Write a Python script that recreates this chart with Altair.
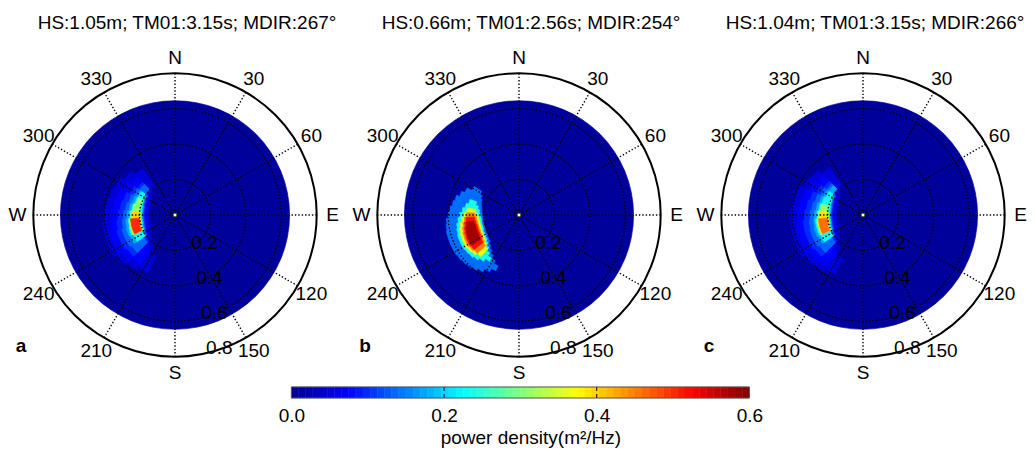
import math
import altair as alt
import pandas as pd

# ---------------- data ----------------
TITLES = ["HS:1.05m; TM01:3.15s; MDIR:267°",
          "HS:0.66m; TM01:2.56s; MDIR:254°",
          "HS:1.04m; TM01:3.15s; MDIR:266°"]
LETTERS = ["a", "b", "c"]
ANGLE_DIRS = [0, 30, 60, 90, 120, 150, 180, 210, 240, 270, 300, 330]
ANGLE_TEXT = ["N", "30", "60", "E", "120", "150", "S", "210", "240", "W", "300", "330"]
SPOKE_DIRS = [0, 30, 60, 90, 120, 150]
RING_R = [0.2, 0.4, 0.6]
OUTER_R = [0.8]
RADIAL_LABELS = [0.2, 0.4, 0.6, 0.8]
DISK_R = 0.645
DISK_LEVEL = 0.008

# contour bands: (level, direction deg, r_inner, r_outer); wedge widths per panel
SPEC_A = [
    (0.05, 210, 0.26, 0.36), (0.05, 220, 0.21, 0.38), (0.05, 230, 0.18, 0.40), (0.05, 240, 0.16, 0.41),
    (0.05, 250, 0.15, 0.41), (0.05, 260, 0.15, 0.41), (0.05, 270, 0.15, 0.40), (0.05, 280, 0.15, 0.39),
    (0.05, 290, 0.15, 0.38), (0.05, 300, 0.16, 0.37), (0.05, 310, 0.17, 0.35), (0.05, 320, 0.19, 0.32),
    (0.075, 220, 0.24, 0.34), (0.075, 230, 0.20, 0.37), (0.075, 240, 0.18, 0.38), (0.075, 250, 0.17, 0.38),
    (0.075, 260, 0.165, 0.37), (0.075, 270, 0.165, 0.36), (0.075, 280, 0.165, 0.35), (0.075, 290, 0.17, 0.34),
    (0.075, 300, 0.17, 0.32), (0.075, 310, 0.19, 0.30),
    (0.10, 230, 0.21, 0.33), (0.10, 240, 0.19, 0.34), (0.10, 250, 0.18, 0.34), (0.10, 260, 0.175, 0.33),
    (0.10, 270, 0.175, 0.32), (0.10, 280, 0.175, 0.31), (0.10, 290, 0.18, 0.30), (0.10, 300, 0.185, 0.28),
    (0.10, 310, 0.20, 0.26),
    (0.135, 230, 0.22, 0.30), (0.135, 240, 0.195, 0.31), (0.135, 250, 0.185, 0.31), (0.135, 260, 0.18, 0.30),
    (0.135, 270, 0.18, 0.29), (0.135, 280, 0.18, 0.28), (0.135, 290, 0.185, 0.27), (0.135, 300, 0.19, 0.26),
    (0.135, 310, 0.205, 0.245),
    (0.175, 240, 0.20, 0.28), (0.175, 250, 0.19, 0.285), (0.175, 260, 0.185, 0.28), (0.175, 270, 0.185, 0.27),
    (0.175, 280, 0.185, 0.26), (0.175, 290, 0.19, 0.25), (0.175, 300, 0.195, 0.24),
    (0.23, 240, 0.205, 0.26), (0.23, 250, 0.195, 0.27), (0.23, 260, 0.19, 0.265), (0.23, 270, 0.19, 0.255),
    (0.23, 280, 0.19, 0.245), (0.23, 290, 0.195, 0.235), (0.23, 300, 0.20, 0.23),
    (0.31, 250, 0.20, 0.262), (0.31, 260, 0.195, 0.26), (0.31, 270, 0.195, 0.25), (0.31, 280, 0.20, 0.24),
    (0.31, 290, 0.20, 0.228),
    (0.40, 250, 0.203, 0.258), (0.40, 260, 0.198, 0.257), (0.40, 270, 0.20, 0.245),
    (0.50, 250, 0.208, 0.252), (0.50, 260, 0.203, 0.252),
]
SPEC_B = [
    (0.14, 205, 0.31, 0.34), (0.14, 210, 0.29, 0.36), (0.14, 215, 0.27, 0.38), (0.14, 220, 0.25, 0.395),
    (0.14, 225, 0.235, 0.405), (0.14, 230, 0.22, 0.41), (0.14, 235, 0.215, 0.415), (0.14, 240, 0.21, 0.42),
    (0.14, 245, 0.21, 0.42), (0.14, 250, 0.205, 0.42), (0.14, 255, 0.205, 0.42), (0.14, 260, 0.205, 0.415),
    (0.14, 265, 0.205, 0.41), (0.14, 270, 0.207, 0.40), (0.14, 275, 0.21, 0.39), (0.14, 280, 0.215, 0.38),
    (0.14, 285, 0.22, 0.37), (0.14, 290, 0.225, 0.35), (0.14, 295, 0.235, 0.33), (0.14, 300, 0.25, 0.30),
    (0.24, 215, 0.29, 0.31), (0.24, 220, 0.27, 0.33), (0.24, 225, 0.25, 0.345), (0.24, 230, 0.235, 0.355),
    (0.24, 235, 0.225, 0.36), (0.24, 240, 0.22, 0.365), (0.24, 245, 0.22, 0.365), (0.24, 250, 0.215, 0.365),
    (0.24, 255, 0.215, 0.36), (0.24, 260, 0.215, 0.355), (0.24, 265, 0.215, 0.345), (0.24, 270, 0.22, 0.335),
    (0.24, 275, 0.225, 0.32), (0.24, 280, 0.235, 0.305), (0.24, 285, 0.25, 0.29),
    (0.36, 225, 0.26, 0.32), (0.36, 230, 0.245, 0.335), (0.36, 235, 0.235, 0.345), (0.36, 240, 0.23, 0.35),
    (0.36, 245, 0.228, 0.35), (0.36, 250, 0.225, 0.348), (0.36, 255, 0.225, 0.343), (0.36, 260, 0.225, 0.335),
    (0.36, 265, 0.228, 0.325), (0.36, 270, 0.235, 0.31), (0.36, 275, 0.245, 0.295),
    (0.45, 230, 0.255, 0.32), (0.45, 235, 0.245, 0.33), (0.45, 240, 0.24, 0.335), (0.45, 245, 0.237, 0.335),
    (0.45, 250, 0.235, 0.333), (0.45, 255, 0.235, 0.328), (0.45, 260, 0.237, 0.32), (0.45, 265, 0.24, 0.31),
    (0.45, 270, 0.25, 0.295),
    (0.52, 235, 0.255, 0.32), (0.52, 240, 0.248, 0.325), (0.52, 245, 0.245, 0.325), (0.52, 250, 0.244, 0.322),
    (0.52, 255, 0.244, 0.317), (0.52, 260, 0.247, 0.31), (0.52, 265, 0.252, 0.30),
    (0.58, 240, 0.258, 0.315), (0.58, 245, 0.255, 0.315), (0.58, 250, 0.254, 0.312), (0.58, 255, 0.254, 0.307),
    (0.58, 260, 0.258, 0.30),
]
SPEC_C = [
    (0.05, 210, 0.27, 0.37), (0.05, 220, 0.22, 0.39), (0.05, 230, 0.18, 0.40), (0.05, 240, 0.16, 0.41),
    (0.05, 250, 0.15, 0.41), (0.05, 260, 0.15, 0.41), (0.05, 270, 0.15, 0.41), (0.05, 280, 0.15, 0.40),
    (0.05, 290, 0.15, 0.39), (0.05, 300, 0.16, 0.37), (0.05, 310, 0.17, 0.36), (0.05, 320, 0.19, 0.33),
    (0.075, 220, 0.25, 0.35), (0.075, 230, 0.20, 0.37), (0.075, 240, 0.18, 0.38), (0.075, 250, 0.17, 0.38),
    (0.075, 260, 0.165, 0.38), (0.075, 270, 0.165, 0.37), (0.075, 280, 0.165, 0.36), (0.075, 290, 0.17, 0.35),
    (0.075, 300, 0.175, 0.33), (0.075, 310, 0.19, 0.31),
    (0.10, 230, 0.21, 0.33), (0.10, 240, 0.19, 0.34), (0.10, 250, 0.18, 0.34), (0.10, 260, 0.175, 0.34),
    (0.10, 270, 0.175, 0.33), (0.10, 280, 0.175, 0.32), (0.10, 290, 0.18, 0.31), (0.10, 300, 0.185, 0.29),
    (0.10, 310, 0.20, 0.27),
    (0.135, 230, 0.22, 0.30), (0.135, 240, 0.195, 0.31), (0.135, 250, 0.185, 0.31), (0.135, 260, 0.18, 0.305),
    (0.135, 270, 0.18, 0.30), (0.135, 280, 0.18, 0.29), (0.135, 290, 0.185, 0.28), (0.135, 300, 0.19, 0.265),
    (0.135, 310, 0.205, 0.25),
    (0.175, 240, 0.20, 0.28), (0.175, 250, 0.19, 0.285), (0.175, 260, 0.185, 0.28), (0.175, 270, 0.185, 0.275),
    (0.175, 280, 0.185, 0.265), (0.175, 290, 0.19, 0.255), (0.175, 300, 0.195, 0.245), (0.175, 310, 0.21, 0.235),
    (0.23, 240, 0.205, 0.265), (0.23, 250, 0.195, 0.27), (0.23, 260, 0.19, 0.27), (0.23, 270, 0.19, 0.26),
    (0.23, 280, 0.19, 0.25), (0.23, 290, 0.195, 0.24), (0.23, 300, 0.20, 0.232),
    (0.31, 250, 0.20, 0.262), (0.31, 260, 0.195, 0.262), (0.31, 270, 0.195, 0.252), (0.31, 280, 0.20, 0.242),
    (0.39, 250, 0.203, 0.258), (0.39, 260, 0.198, 0.258), (0.39, 270, 0.20, 0.248),
    (0.46, 250, 0.208, 0.252), (0.46, 260, 0.203, 0.252),
]
SPECS = [SPEC_A, SPEC_B, SPEC_C]
WEDGES = [10, 5, 10]

CB_TICKS = [0.0, 0.2, 0.4, 0.6]
CB_DASH = [0.2, 0.4]
CB_STEPS = 64
JET_STOPS = [0.0, 0.075, 0.225, 0.375, 0.525, 0.6]
JET_COLORS = ["#00008f", "#0000ff", "#00ffff", "#ffff00", "#ff0000", "#800000"]

# ---------------- layout ----------------
FONT = "Liberation Sans"
FS = 19
PX = 177.1          # pixels per radial unit
HALF = 165          # half panel size in px
D = HALF / PX
LAB_R = 157.5 / PX
RLAB_DIR = 172

jet = alt.Scale(domain=JET_STOPS, range=JET_COLORS, interpolate="rgb")
theta_sc = alt.Scale(domain=[0, 360], range=[0, 2 * math.pi])
rad_sc = alt.Scale(type="linear", domain=[0, D], range=[0, HALF], zero=True, nice=False)
xs = alt.Scale(domain=[-D, D], nice=False, zero=False)
ys = alt.Scale(domain=[-D, D], nice=False, zero=False)


def panel(spec, wedge, title, letter):
    rows = [{"lev": DISK_LEVEL, "t0": 0, "t1": 360, "r0": 0.0, "r1": DISK_R}]
    for lev, d, ri, ro in spec:
        rows.append({"lev": lev, "t0": d - wedge / 2, "t1": d + wedge / 2, "r0": ri, "r1": ro})
    df = pd.DataFrame(rows)
    df["idx"] = range(len(df))

    spectrum = alt.Chart(df).mark_arc(strokeWidth=0.7).encode(
        theta=alt.Theta("t0:Q", scale=theta_sc, stack=False),
        theta2="t1:Q",
        radius=alt.Radius("r1:Q", scale=rad_sc),
        radius2="r0:Q",
        color=alt.Color("lev:Q", scale=jet, legend=None),
        stroke=alt.Stroke("lev:Q", scale=jet, legend=None),
        order=alt.Order("idx:Q"),
    )
    rings = alt.Chart(pd.DataFrame({"r": RING_R, "t0": 0, "t1": 360})).mark_arc(
        filled=False, stroke="black", strokeWidth=1.4, strokeDash=[1.4, 2.0]
    ).encode(
        theta=alt.Theta("t0:Q", scale=theta_sc, stack=False),
        theta2="t1:Q",
        radius=alt.Radius("r:Q", scale=rad_sc),
    )
    outer = alt.Chart(pd.DataFrame({"r": OUTER_R, "t0": 0, "t1": 360})).mark_arc(
        filled=False, stroke="black", strokeWidth=2
    ).encode(
        theta=alt.Theta("t0:Q", scale=theta_sc, stack=False),
        theta2="t1:Q",
        radius=alt.Radius("r:Q", scale=rad_sc),
    )
    spokes = alt.Chart(pd.DataFrame({"b": SPOKE_DIRS, "r": OUTER_R[0]})).transform_calculate(
        x="datum.r*sin(datum.b*PI/180)",
        y="datum.r*cos(datum.b*PI/180)",
        xe="-datum.r*sin(datum.b*PI/180)",
        ye="-datum.r*cos(datum.b*PI/180)",
    ).mark_rule(color="black", strokeWidth=1.4, strokeDash=[1.4, 2.0]).encode(
        x=alt.X("x:Q", scale=xs, axis=None),
        y=alt.Y("y:Q", scale=ys, axis=None),
        x2="xe:Q",
        y2="ye:Q",
    )
    marker = alt.Chart(pd.DataFrame({"x": [0.0], "y": [0.0]})).mark_point(
        shape="circle", size=12, filled=True, fill="white", stroke="#666666", strokeWidth=1, opacity=1
    ).encode(x=alt.X("x:Q", scale=xs, axis=None), y=alt.Y("y:Q", scale=ys, axis=None))
    labels = alt.Chart(pd.DataFrame({"b": ANGLE_DIRS, "t": ANGLE_TEXT})).transform_calculate(
        x=f"{LAB_R}*sin(datum.b*PI/180)",
        y=f"{LAB_R}*cos(datum.b*PI/180)",
    ).mark_text(font=FONT, fontSize=FS, color="black", align="center", baseline="middle").encode(
        x=alt.X("x:Q", scale=xs, axis=None),
        y=alt.Y("y:Q", scale=ys, axis=None),
        text="t:N",
    )
    rlabels = alt.Chart(pd.DataFrame({"r": RADIAL_LABELS})).transform_calculate(
        x=f"datum.r*sin({RLAB_DIR}*PI/180)",
        y=f"datum.r*cos({RLAB_DIR}*PI/180)",
        t="format(datum.r, '.1f')",
    ).mark_text(font=FONT, fontSize=FS, color="black", align="center", baseline="middle",
                dx=24.6, dy=-7).encode(
        x=alt.X("x:Q", scale=xs, axis=None),
        y=alt.Y("y:Q", scale=ys, axis=None),
        text="t:N",
    )
    let = alt.Chart(pd.DataFrame({"t": [letter]})).mark_text(
        font=FONT, fontSize=FS, fontWeight="bold", color="black", align="center", baseline="middle"
    ).encode(x=alt.value(11), y=alt.value(296), text="t:N")

    return alt.layer(spectrum, rings, outer, spokes, marker, labels, rlabels, let).properties(
        width=2 * HALF, height=2 * HALF,
        title=alt.TitleParams(text=title, font=FONT, fontSize=FS, fontWeight="normal", color="black",
                              anchor="middle", dx=12, offset=1, baseline="alphabetic"),
    )


panels = [panel(s, w, t, l) for s, w, t, l in zip(SPECS, WEDGES, TITLES, LETTERS)]

# ---------------- colorbar ----------------
CB_MAX = CB_TICKS[-1]
CB_W = 458
cb_scale = alt.Scale(domain=[CB_TICKS[0], CB_MAX], nice=False, zero=False)
cb_bins = alt.Chart(alt.sequence(0, CB_STEPS, as_="i")).transform_calculate(
    v0=f"datum.i*{CB_MAX}/{CB_STEPS}",
    v1=f"(datum.i+1)*{CB_MAX}/{CB_STEPS}",
    vc=f"(datum.i+0.5)*{CB_MAX}/{CB_STEPS}",
).mark_rect(strokeWidth=0.5).encode(
    x=alt.X("v0:Q", scale=cb_scale,
            axis=alt.Axis(values=CB_TICKS, format=".1f", labelFont=FONT, labelFontSize=FS,
                          labelColor="black", labelFlush=False, ticks=False, domain=False, grid=False,
                          labelPadding=8, title="power density(m²/Hz)", titleFont=FONT,
                          titleFontSize=FS, titleFontWeight="normal", titleColor="black",
                          titlePadding=3, titleX=CB_W / 2 + 10)),
    x2="v1:Q",
    y=alt.value(0), y2=alt.value(11),
    color=alt.Color("vc:Q", scale=jet, legend=None),
    stroke=alt.Stroke("vc:Q", scale=jet, legend=None),
)
cb_dash = alt.Chart(pd.DataFrame({"v": CB_DASH})).mark_rule(
    color="black", strokeWidth=1, strokeDash=[4, 3]
).encode(x=alt.X("v:Q", scale=cb_scale), y=alt.value(0), y2=alt.value(11))
cb_border = alt.Chart(pd.DataFrame({"a": [CB_TICKS[0]], "b": [CB_MAX]})).mark_rect(
    filled=False, stroke="#555555", strokeWidth=1
).encode(x=alt.X("a:Q", scale=cb_scale), x2="b:Q", y=alt.value(0), y2=alt.value(11))
colorbar = alt.layer(cb_bins, cb_dash, cb_border).properties(width=CB_W, height=11)

spacer = alt.Chart(pd.DataFrame({"t": [""]})).mark_text(opacity=0).encode(
    x=alt.value(0), y=alt.value(0), text="t:N"
).properties(width=2, height=11)

chart = alt.vconcat(
    alt.hconcat(*panels, spacing=14, bounds="flush"),
    alt.hconcat(spacer, colorbar, spacing=14, bounds="flush"),
    spacing=-2, center=True,
).properties(
    padding={"left": 8, "top": 13, "right": 5, "bottom": 5},
    background="white",
).configure(font=FONT).configure_view(strokeWidth=0)

chart.save("out.html", embed_options={"renderer": "svg", "actions": False})
